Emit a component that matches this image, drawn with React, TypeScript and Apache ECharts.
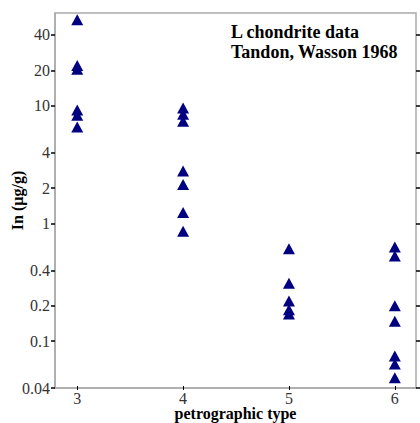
import React, { useEffect, useRef } from "react";
import * as echarts from "echarts";

// Petrographic type categories (x positions)
const petrographicTypes = [3, 4, 5, 6];

// In concentrations (µg/g), one array per petrographic type
const type3Values = [54, 22, 20.5, 9.2, 8.3, 6.6];
const type4Values = [9.6, 8.5, 7.4, 2.8, 2.15, 1.24, 0.86];
const type5Values = [0.61, 0.31, 0.22, 0.185, 0.17];
const type6Values = [0.63, 0.53, 0.2, 0.148, 0.075, 0.064, 0.049];

// Tick labels
const yTickLabels = [0.04, 0.1, 0.2, 0.4, 1, 2, 4, 10, 20, 40];
const xTickLabels = [3, 4, 5, 6];

const Y_MIN = 0.04;
const Y_MAX = 61.5;
const X_MIN = 2.79;
const X_MAX = 6.2;

const titleLines = ["L chondrite data", "Tandon, Wasson 1968"];

const FONT = "Liberation Serif";

export default function App() {
  const ref = useRef<HTMLDivElement>(null);

  useEffect(() => {
    if (!ref.current) return;
    document.body.style.margin = "0";
    const chart = echarts.init(ref.current, null, { renderer: "svg" });

    const groups = [type3Values, type4Values, type5Values, type6Values];
    const data: number[][] = [];
    groups.forEach((vals, i) => {
      vals.forEach((v) => data.push([petrographicTypes[i], Math.log10(v)]));
    });

    const yTicks = yTickLabels.map((v) => Math.log10(v));
    const yFormatter = (v: number) => {
      let best = yTickLabels[0];
      let bd = Infinity;
      for (const l of yTickLabels) {
        const d = Math.abs(Math.log10(l) - v);
        if (d < bd) {
          bd = d;
          best = l;
        }
      }
      return String(best);
    };

    const gray = "#aaaaaa";

    chart.setOption({
      animation: false,
      textStyle: { fontFamily: FONT },
      grid: {
        left: 55,
        right: 4,
        top: 13,
        bottom: 35,
        show: true,
        borderColor: gray,
        borderWidth: 1.5,
        backgroundColor: "transparent",
        containLabel: false,
        outerBoundsMode: "none",
      },
      xAxis: [
        {
          type: "value",
          min: X_MIN,
          max: X_MAX,
          name: "petrographic type",
          nameLocation: "middle",
          nameGap: 18,
          nameMoveOverlap: false,
          nameTextStyle: {
            fontFamily: FONT,
            fontWeight: "bold",
            fontSize: 16,
            lineHeight: 14,
            color: "#000",
          },
          axisLine: {
            show: true,
            onZero: false,
            lineStyle: { color: gray, width: 1.5 },
          },
          axisTick: {
            show: true,
            customValues: xTickLabels,
            length: 2,
            inside: false,
            lineStyle: { color: "#000", width: 1 },
          },
          axisLabel: {
            customValues: xTickLabels,
            fontFamily: FONT,
            fontSize: 16,
            lineHeight: 13,
            color: "#333",
            margin: 4,
          },
          splitLine: { show: false },
        },
        {
          type: "value",
          min: X_MIN,
          max: X_MAX,
          position: "bottom",
          axisLine: { show: false, onZero: false },
          axisTick: {
            show: true,
            customValues: xTickLabels,
            length: 2,
            inside: true,
            lineStyle: { color: "#000", width: 1 },
          },
          axisLabel: { show: false },
          splitLine: { show: false },
        },
      ],
      yAxis: [
        {
          type: "value",
          min: Math.log10(Y_MIN),
          max: Math.log10(Y_MAX),
          name: "In (µg/g)",
          nameLocation: "middle",
          nameGap: 30,
          nameMoveOverlap: false,
          nameTextStyle: {
            fontFamily: FONT,
            fontWeight: "bold",
            fontSize: 16,
            color: "#000",
          },
          axisLine: {
            show: true,
            onZero: false,
            lineStyle: { color: gray, width: 1.5 },
          },
          axisTick: {
            show: true,
            customValues: yTicks,
            length: 4,
            lineStyle: { color: "#000", width: 1.5 },
          },
          axisLabel: {
            customValues: yTicks,
            formatter: yFormatter,
            fontFamily: FONT,
            fontSize: 16,
            color: "#333",
            margin: 5,
          },
          splitLine: { show: false },
        },
        {
          type: "value",
          position: "right",
          min: Math.log10(Y_MIN),
          max: Math.log10(Y_MAX),
          axisLine: { show: false, onZero: false },
          axisTick: {
            show: true,
            customValues: yTicks,
            length: 4,
            lineStyle: { color: "#000", width: 1.5 },
          },
          axisLabel: { show: false },
          splitLine: { show: false },
        },
      ],
      graphic: [
        {
          type: "text",
          x: 231,
          y: 22,
          style: {
            text: titleLines.join("\n"),
            font: `bold 18px ${FONT}`,
            lineHeight: 20,
            fill: "#000",
            textAlign: "left",
            textVerticalAlign: "top",
          },
        },
      ],
      series: [
        {
          type: "scatter",
          xAxisIndex: 0,
          yAxisIndex: 0,
          symbol: "triangle",
          symbolSize: [12, 11],
          itemStyle: { color: "#000080", opacity: 1 },
          data,
        },
      ],
    });

    return () => chart.dispose();
  }, []);

  return (
    <div
      ref={ref}
      style={{ width: 420, height: 423, position: "absolute", left: 0, top: 0 }}
    />
  );
}
